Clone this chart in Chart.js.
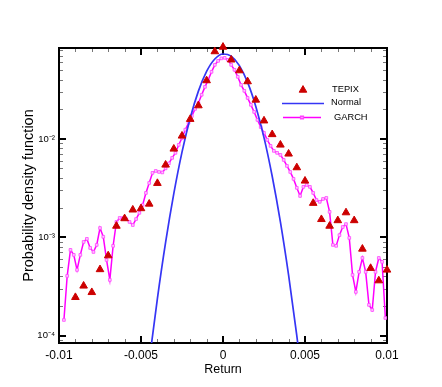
<!DOCTYPE html>
<html><head><meta charset="utf-8">
<script src="https://cdn.jsdelivr.net/npm/chart.js@4/dist/chart.umd.min.js"></script>
<style>html,body{margin:0;padding:0;background:#fff;}#c{display:block;}</style>
</head><body>
<canvas id="c" width="442" height="387"></canvas>
<script>
// ---- data ----
const seriesNames = ['TEPIX', 'Normal', 'GARCH'];

const tepixX = [-0.009,-0.0085,-0.008,-0.0075,-0.007,-0.0065,-0.006,-0.0055,-0.005,-0.0045,
  -0.004,-0.0035,-0.003,-0.0025,-0.002,-0.0015,-0.001,-0.0005,0,0.0005,
  0.001,0.0015,0.002,0.0025,0.003,0.0035,0.004,0.0045,0.005,0.0055,
  0.006,0.0065,0.007,0.0075,0.008,0.0085,0.009,0.0095,0.01];
const tepixY = [2.45e-4,3.2e-4,2.75e-4,4.7e-4,6.5e-4,1.30e-3,1.55e-3,1.90e-3,1.96e-3,2.18e-3,
  3.54e-3,5.44e-3,7.91e-3,1.073e-2,1.586e-2,2.18e-2,3.92e-2,7.73e-2,8.6e-2,6.37e-2,
  4.95e-2,3.83e-2,2.49e-2,1.53e-2,1.11e-2,8.69e-3,7.04e-3,5.11e-3,3.74e-3,2.22e-3,
  1.52e-3,1.30e-3,1.48e-3,1.78e-3,1.48e-3,7.60e-4,4.84e-4,3.62e-4,4.65e-4];

const normalX = [-0.0045,-0.004,-0.0035,-0.003,-0.0025,-0.002,-0.0015,-0.001,-0.0005,0,
  0.0005,0.001,0.0015,0.002,0.0025,0.003,0.0035,0.004,0.0045,0.005];
const normalY = [5.41e-5,2.38e-4,8.85e-4,2.77e-3,7.33e-3,1.63e-2,3.06e-2,4.85e-2,6.49e-2,7.30e-2,
  6.94e-2,5.56e-2,3.76e-2,2.14e-2,1.03e-2,4.17e-3,1.43e-3,4.11e-4,1.00e-4,2.05e-5];

const garchX = [-0.0097,-0.0095,-0.0093,-0.0091,-0.0089,-0.0087,-0.0085,-0.0083,-0.0081,-0.0079,
  -0.0077,-0.0075,-0.0073,-0.0071,-0.0069,-0.0067,-0.0065,-0.0063,-0.0061,-0.0059,
  -0.0057,-0.0055,-0.0053,-0.0051,-0.0049,-0.0047,-0.0045,-0.0043,-0.0041,-0.0039,
  -0.0037,-0.0035,-0.0033,-0.0031,-0.0029,-0.0027,-0.0025,-0.0023,-0.0021,-0.0019,
  -0.0017,-0.0015,-0.0013,-0.0011,-0.0009,-0.0007,-0.0005,-0.0003,-0.0001,
  0.0001,0.0003,0.0005,0.0007,0.0009,0.0011,0.0013,0.0015,0.0017,0.0019,
  0.0021,0.0023,0.0025,0.0027,0.0029,0.0031,0.0033,0.0035,0.0037,0.0039,
  0.0041,0.0043,0.0045,0.0047,0.0049,0.0051,0.0053,0.0055,0.0057,0.0059,
  0.0061,0.0063,0.0065,0.0067,0.0069,0.0071,0.0073,0.0075,0.0077,0.0079,
  0.0081,0.0083,0.0085,0.0087,0.0089,0.0091,0.0093,0.0095,0.0097,0.0099];
const garchY = [1.44e-4,4.04e-4,7.43e-4,6.61e-4,4.65e-4,6.61e-4,8.95e-4,9.62e-4,7.78e-4,7.08e-4,
  8.35e-4,1.24e-3,1.01e-3,5.87e-4,3.68e-4,8.17e-4,1.43e-3,1.57e-3,1.57e-3,1.53e-3,
  1.43e-3,1.33e-3,1.53e-3,1.77e-3,2.13e-3,2.82e-3,3.56e-3,4.51e-3,4.72e-3,4.61e-3,
  4.56e-3,5.01e-3,5.64e-3,6.41e-3,7.21e-3,8.69e-3,1.02e-2,1.24e-2,1.46e-2,1.71e-2,
  2.02e-2,2.32e-2,2.81e-2,3.38e-2,3.98e-2,4.81e-2,5.66e-2,6.21e-2,6.59e-2,
  6.67e-2,6.37e-2,5.66e-2,5.04e-2,4.28e-2,3.54e-2,3.08e-2,2.61e-2,2.22e-2,1.88e-2,
  1.56e-2,1.32e-2,1.15e-2,9.77e-3,8.49e-3,7.55e-3,7.21e-3,6.87e-3,6.11e-3,5.31e-3,
  4.61e-3,3.92e-3,3.18e-3,2.63e-3,3.25e-3,3.40e-3,3.25e-3,2.82e-3,2.39e-3,2.29e-3,
  2.45e-3,2.51e-3,1.81e-3,8.35e-4,8.17e-4,1.05e-3,1.27e-3,1.36e-3,9.84e-4,4.13e-4,
  2.78e-4,4.44e-4,6.15e-4,4.44e-4,2.05e-4,1.82e-4,4.44e-4,6.15e-4,5.61e-4,1.51e-4];

const xTickValues = [-0.01,-0.005,0,0.005,0.01];
const xTickLabels = ['-0.01','-0.005','0','0.005','0.01'];
const yTickValues = [1e-4,1e-3,1e-2];
const yTickLabels = ['10\u207B\u2074','10\u207B\u00B3','10\u207B\u00B2'];
const xTitle = 'Return';
const yTitle = 'Probability density function';

// ---- chart ----
const FONT = "'Liberation Sans', Arial, Helvetica, sans-serif";
Chart.defaults.font.family = FONT;
Chart.defaults.color = '#000';

const pts = (xs, ys) => xs.map((x, i) => ({x: x, y: ys[i]}));

const framePlugin = {
  id: 'frame',
  beforeDatasetsDraw(chart) {
    const {ctx, chartArea: a, scales: {x, y}} = chart;
    ctx.save();
    for (let i = -10; i <= 10; i++) {
      const major = i % 5 === 0;
      const px = Math.round(x.getPixelForValue(i / 1000)) + (major ? 0 : 0.5);
      const len = major ? 7 : 4;
      ctx.strokeStyle = major ? '#000' : '#777';
      ctx.lineWidth = major ? 2 : 1;
      ctx.beginPath();
      ctx.moveTo(px, a.bottom); ctx.lineTo(px, a.bottom - len);
      ctx.moveTo(px, a.top); ctx.lineTo(px, a.top + len);
      ctx.stroke();
    }
    for (let e = -5; e <= -1; e++) {
      for (let m = 1; m <= 9; m++) {
        const v = m * Math.pow(10, e);
        if (v < y.min || v > y.max) continue;
        const major = m === 1;
        const py = Math.round(y.getPixelForValue(v)) + (major ? 0 : 0.5);
        const len = major ? 7 : 4;
        ctx.strokeStyle = major ? '#000' : '#777';
        ctx.lineWidth = major ? 2 : 1;
        ctx.beginPath();
        ctx.moveTo(a.left, py); ctx.lineTo(a.left + len, py);
        ctx.moveTo(a.right, py); ctx.lineTo(a.right - len, py);
        ctx.stroke();
      }
    }
    ctx.strokeStyle = '#000';
    ctx.lineWidth = 2;
    ctx.strokeRect(a.left, a.top, a.right - a.left, a.bottom - a.top);
    ctx.restore();
  },
  afterDraw(chart) {
    const ctx = chart.ctx;
    const ds = chart.data.datasets;
    ctx.save();
    ctx.font = '9.3px ' + FONT;
    ctx.textBaseline = 'middle';
    ctx.textAlign = 'left';
    ctx.fillStyle = ds[0].backgroundColor;
    ctx.strokeStyle = ds[0].borderColor;
    Chart.helpers.drawPoint(ctx, {pointStyle: 'triangle', radius: ds[0].pointRadius, borderWidth: 1, rotation: 0}, 303, 90);
    ctx.fillStyle = '#000';
    ctx.fillText(ds[0].label, 332, 89);
    ctx.strokeStyle = ds[1].borderColor;
    ctx.lineWidth = ds[1].borderWidth;
    ctx.beginPath(); ctx.moveTo(282, 103.5); ctx.lineTo(324, 103.5); ctx.stroke();
    ctx.fillText(ds[1].label, 331, 102.5);
    ctx.strokeStyle = ds[2].borderColor;
    ctx.lineWidth = ds[2].borderWidth;
    ctx.beginPath(); ctx.moveTo(283, 117.5); ctx.lineTo(321, 117.5); ctx.stroke();
    ctx.fillStyle = ds[2].pointBackgroundColor;
    ctx.strokeStyle = ds[2].pointBorderColor;
    Chart.helpers.drawPoint(ctx, {pointStyle: 'rect', radius: ds[2].pointRadius, borderWidth: ds[2].pointBorderWidth, rotation: 0}, 302, 117.5);
    ctx.fillStyle = '#000';
    ctx.fillText(ds[2].label, 334, 117);
    ctx.restore();
  }
};

new Chart(document.getElementById('c'), {
  type: 'scatter',
  data: {
    datasets: [
      {
        label: seriesNames[0],
        data: pts(tepixX, tepixY),
        showLine: false,
        pointStyle: 'triangle',
        pointRadius: 4.4,
        backgroundColor: '#CC0000',
        borderColor: '#CC0000',
        borderWidth: 1,
        clip: false,
        order: 0
      },
      {
        label: seriesNames[1],
        data: pts(normalX, normalY),
        showLine: true,
        borderColor: '#3535F5',
        borderWidth: 1.7,
        pointRadius: 0,
        cubicInterpolationMode: 'monotone',
        order: 1
      },
      {
        label: seriesNames[2],
        data: pts(garchX, garchY),
        showLine: true,
        borderColor: '#FF00FF',
        borderWidth: 1.5,
        pointStyle: 'rect',
        pointRadius: 1.9,
        pointBackgroundColor: '#FFC8FF',
        pointBorderColor: '#FF44FF',
        pointBorderWidth: 0.8,
        order: 2
      }
    ]
  },
  options: {
    responsive: false,
    animation: false,
    devicePixelRatio: 1,
    layout: {padding: {left: 0, right: 55, top: 48, bottom: 9}},
    plugins: {legend: {display: false}, tooltip: {enabled: false}},
    scales: {
      x: {
        type: 'linear', min: -0.01, max: 0.01,
        afterBuildTicks: s => { s.ticks = xTickValues.map(v => ({value: v})); },
        ticks: {autoSkip: false, maxRotation: 0, padding: 5, color: '#000',
          font: {size: 12, family: FONT},
          callback: (v, i) => xTickLabels[i]},
        grid: {display: false, drawTicks: false},
        border: {display: false},
        title: {display: true, text: xTitle, color: '#000',
          font: {size: 12.5, family: FONT}, padding: {top: 0, bottom: 1}},
        afterFit: s => { s.height = 35; }
      },
      y: {
        type: 'logarithmic', min: 8.4e-5, max: 0.084,
        afterBuildTicks: s => { s.ticks = yTickValues.map(v => ({value: v})); },
        ticks: {autoSkip: false, padding: 4, color: '#000',
          font: {size: 9.5, family: FONT},
          callback: (v, i) => yTickLabels[i]},
        grid: {display: false, drawTicks: false},
        border: {display: false},
        title: {display: true, text: yTitle, color: '#000',
          font: {size: 14.5, family: FONT}, padding: {top: 20, bottom: 0}},
        afterFit: s => { s.width = 59; }
      }
    }
  },
  plugins: [framePlugin]
});
</script>
</body></html>
